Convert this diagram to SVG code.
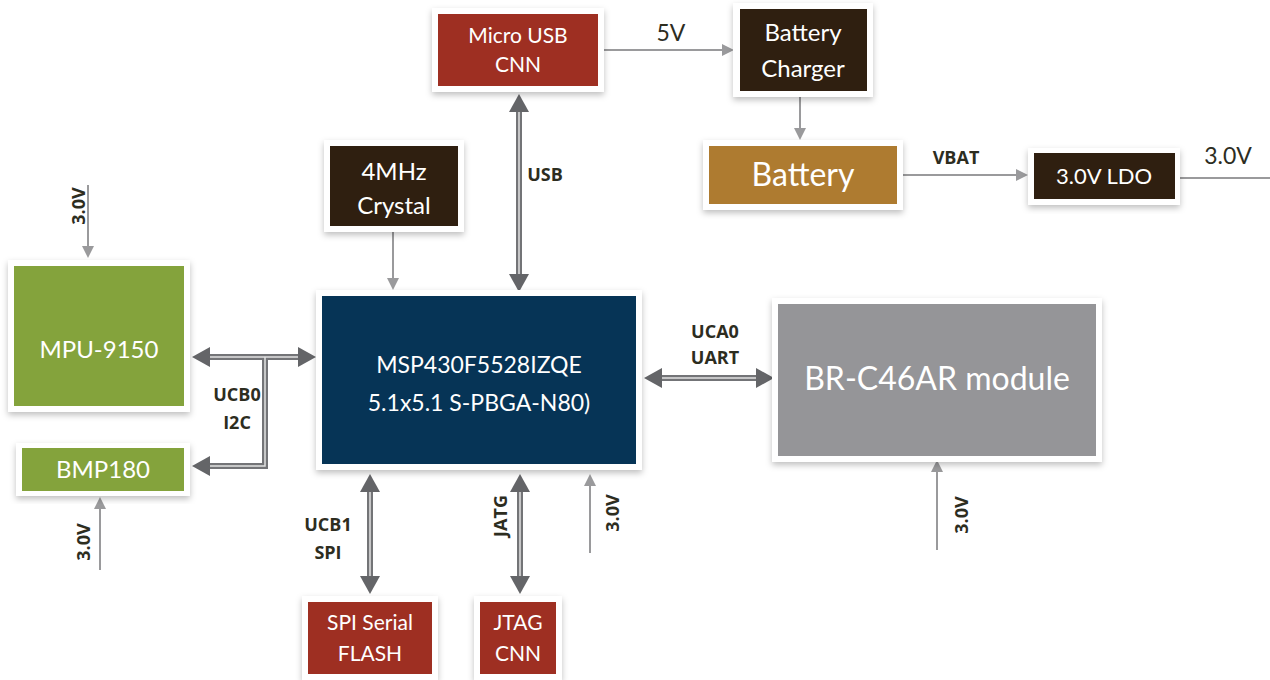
<svg xmlns="http://www.w3.org/2000/svg" width="1270" height="680" viewBox="0 0 1270 680">
<defs>
<filter id="sh" x="-10%" y="-10%" width="120%" height="125%">
<feDropShadow dx="0" dy="3" stdDeviation="3" flood-color="#000" flood-opacity="0.25"/>
</filter>
<marker id="big" viewBox="0 0 18 20" refX="0" refY="10" markerWidth="18" markerHeight="20" markerUnits="userSpaceOnUse" orient="auto-start-reverse">
<path d="M0,0 L18,10 L0,20 z" fill="#646568"/>
</marker>
<marker id="sm" viewBox="0 0 12 12" refX="0" refY="6" markerWidth="12" markerHeight="12" markerUnits="userSpaceOnUse" orient="auto-start-reverse">
<path d="M0,0 L12,6 L0,12 z" fill="#9a9a9c"/>
</marker>
</defs>
<style>
.frame{fill:#fff;filter:url(#sh)}
.red{fill:#9e2f22}
.brn{fill:#2f1f10}
.gold{fill:#ae7b30}
.navy{fill:#063456}
.gray{fill:#959598}
.grn{fill:#84a33c}
.t{font-family:Lato,"Open Sans","Liberation Sans",sans-serif;fill:#fff;text-anchor:middle}
.lb{font-family:"Open Sans","Liberation Sans",sans-serif;font-weight:bold;font-size:18px;fill:#2d2d1f;text-anchor:middle}
.lr{font-family:Lato,"Open Sans","Liberation Sans",sans-serif;font-size:23px;fill:#2d2d1f;text-anchor:middle}
.bus{fill:none;stroke:#737477;stroke-width:6}
.busin{fill:none;stroke:#e2e2e2;stroke-width:1.5}
.pw{fill:none;stroke:#9a9a9c;stroke-width:2}
</style>

<g id="connectors">
<line class="bus" x1="519" y1="112" x2="519" y2="274" marker-start="url(#big)" marker-end="url(#big)"/>
<line class="busin" x1="519" y1="112" x2="519" y2="274"/>
<line class="bus" x1="210" y1="357" x2="298" y2="357" marker-start="url(#big)" marker-end="url(#big)"/>
<polyline class="bus" points="265,357 265,466 210,466" marker-end="url(#big)"/>
<line class="busin" x1="210" y1="357" x2="298" y2="357"/>
<polyline class="busin" points="265,357 265,466 210,466"/>
<line class="bus" x1="370" y1="492" x2="370" y2="576" marker-start="url(#big)" marker-end="url(#big)"/>
<line class="busin" x1="370" y1="492" x2="370" y2="576"/>
<line class="bus" x1="520" y1="492" x2="520" y2="576" marker-start="url(#big)" marker-end="url(#big)"/>
<line class="busin" x1="520" y1="492" x2="520" y2="576"/>
<line class="bus" x1="662" y1="378" x2="756" y2="378" marker-start="url(#big)" marker-end="url(#big)"/>
<line class="busin" x1="662" y1="378" x2="756" y2="378"/>
<line class="pw" x1="604" y1="50" x2="722" y2="50" marker-end="url(#sm)"/>
<line class="pw" x1="800" y1="97" x2="800" y2="128" marker-end="url(#sm)"/>
<line class="pw" x1="903" y1="175" x2="1016" y2="175" marker-end="url(#sm)"/>
<line class="pw" x1="1180" y1="178" x2="1270" y2="178"/>
<line class="pw" x1="393" y1="232" x2="393" y2="278" marker-end="url(#sm)"/>
<line class="pw" x1="88" y1="185" x2="88" y2="246" marker-end="url(#sm)"/>
<line class="pw" x1="100" y1="570" x2="100" y2="509" marker-end="url(#sm)"/>
<line class="pw" x1="590" y1="553" x2="590" y2="486" marker-end="url(#sm)"/>
<line class="pw" x1="937" y1="550" x2="937" y2="472" marker-end="url(#sm)"/>
<text class="lr" x="671" y="41">5V</text>
<text class="lb" x="956" y="164">VBAT</text>
<text class="lr" x="1228" y="164">3.0V</text>
<text class="lb" x="545" y="181">USB</text>
<text class="lb" x="237" y="401">UCB0</text>
<text class="lb" x="237" y="429">I2C</text>
<text class="lb" x="328" y="531">UCB1</text>
<text class="lb" x="328" y="559">SPI</text>
<text class="lb" x="715" y="338">UCA0</text>
<text class="lb" x="715" y="364">UART</text>
<text class="lb" transform="translate(85,206) rotate(-90)">3.0V</text>
<text class="lb" transform="translate(90,542) rotate(-90)">3.0V</text>
<text class="lb" transform="translate(507,516) rotate(-90)">JATG</text>
<text class="lb" transform="translate(619,513) rotate(-90)">3.0V</text>
<text class="lb" transform="translate(968,515) rotate(-90)">3.0V</text>
</g>

<g id="micro-usb">
<rect class="frame" x="432" y="8" width="172" height="84"/>
<rect class="red" x="438" y="14" width="160" height="72"/>
<text class="t" font-size="21" x="518" y="43">Micro USB</text>
<text class="t" font-size="21" x="518" y="72">CNN</text>
</g>
<g id="battery-charger">
<rect class="frame" x="733" y="3" width="140" height="94"/>
<rect class="brn" x="740" y="9" width="127" height="82"/>
<text class="t" font-size="24" x="803" y="41">Battery</text>
<text class="t" font-size="24" x="803" y="77">Charger</text>
</g>
<g id="battery">
<rect class="frame" x="703" y="140" width="200" height="70"/>
<rect class="gold" x="709" y="146" width="188" height="58"/>
<text class="t" font-size="32" x="803" y="186">Battery</text>
</g>
<g id="ldo">
<rect class="frame" x="1028" y="148" width="152" height="57"/>
<rect class="brn" x="1034" y="153" width="141" height="46"/>
<text class="t" font-size="22" x="1104" y="184">3.0V LDO</text>
</g>
<g id="crystal">
<rect class="frame" x="324" y="140" width="140" height="92"/>
<rect class="brn" x="330" y="146" width="128" height="80"/>
<text class="t" font-size="24" x="394" y="180">4MHz</text>
<text class="t" font-size="24" x="394" y="214">Crystal</text>
</g>
<g id="msp430">
<rect class="frame" x="316" y="290" width="326" height="180"/>
<rect class="navy" x="322" y="296" width="314" height="168"/>
<text class="t" font-size="23" x="479" y="373">MSP430F5528IZQE</text>
<text class="t" font-size="23" x="479" y="411">5.1x5.1 S-PBGA-N80)</text>
</g>
<g id="br-c46ar">
<rect class="frame" x="772" y="298" width="330" height="164"/>
<rect class="gray" x="778" y="304" width="318" height="152"/>
<text class="t" font-size="32" x="937" y="390">BR-C46AR module</text>
</g>
<g id="mpu9150">
<rect class="frame" x="8" y="260" width="182" height="152"/>
<rect class="grn" x="14" y="266" width="170" height="140"/>
<text class="t" font-size="24" x="99" y="358">MPU-9150</text>
</g>
<g id="bmp180">
<rect class="frame" x="16" y="443" width="174" height="53"/>
<rect class="grn" x="22" y="448" width="162" height="43"/>
<text class="t" font-size="24" x="103" y="478">BMP180</text>
</g>
<g id="spi-flash">
<rect class="frame" x="302" y="596" width="136" height="84"/>
<rect class="red" x="308" y="602" width="124" height="72"/>
<text class="t" font-size="21" x="370" y="630">SPI Serial</text>
<text class="t" font-size="21" x="370" y="661">FLASH</text>
</g>
<g id="jtag">
<rect class="frame" x="474" y="596" width="88" height="84"/>
<rect class="red" x="480" y="602" width="76" height="72"/>
<text class="t" font-size="21" x="518" y="630">JTAG</text>
<text class="t" font-size="21" x="518" y="661">CNN</text>
</g>
</svg>
